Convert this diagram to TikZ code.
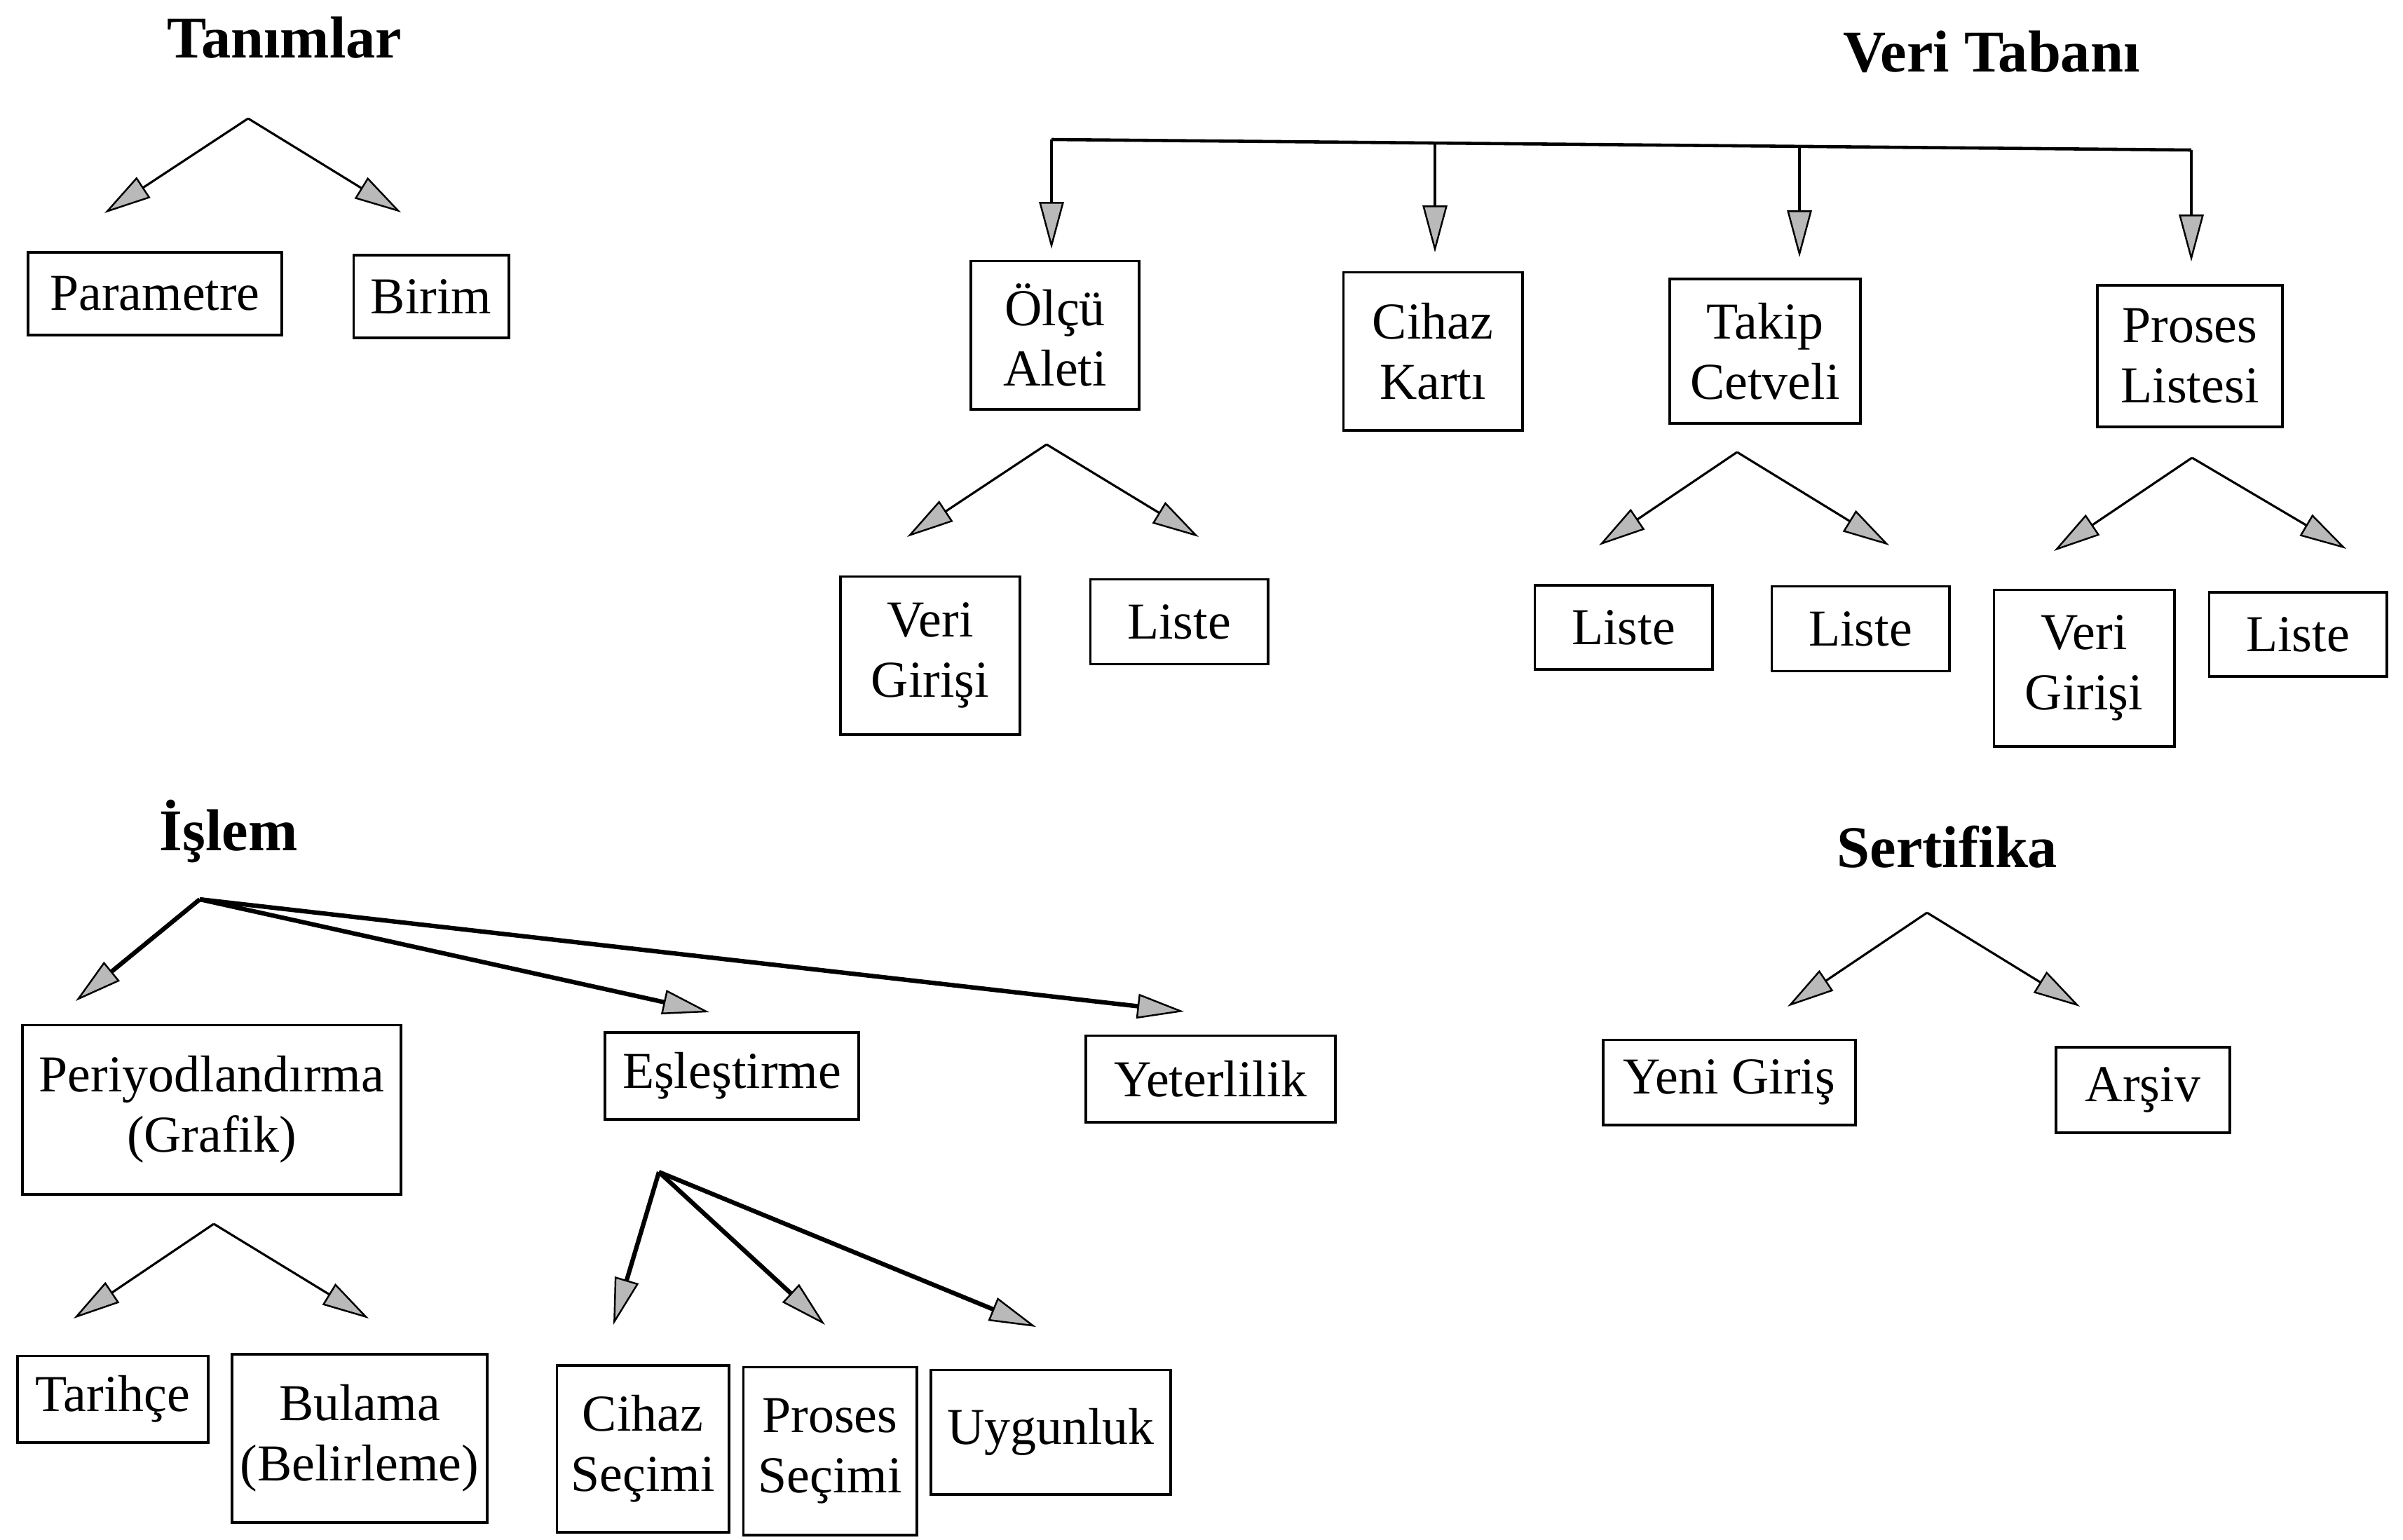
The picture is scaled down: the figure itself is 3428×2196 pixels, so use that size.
\documentclass[tikz,border=0pt]{standalone}
\usepackage{fontspec}
\setmainfont{Liberation Serif}
\usetikzlibrary{arrows.meta,positioning}

\begin{document}
\begin{tikzpicture}[x=0.01cm, y=-0.01cm,
      kutu/.style={draw, line width=1.1pt, align=center, inner sep=2pt, font={\fontsize{21}{24.5}\selectfont}},
      baslik/.style={anchor=base, font={\fontsize{24}{28}\selectfont\bfseries}},
      ok/.style={line width=0.9pt, -{Triangle[length=19pt, width=10pt, fill=gray!55, line width=0.7pt]}},
      kalinok/.style={ok, line width=1.8pt},
      hat/.style={line width=1.3pt}]

    \useasboundingbox (0,0) rectangle (3428,2196);

    %draw Tanimlar
    \node[baslik] (tanimlar) at (406,82) {Tanımlar};
    \node[kutu, minimum width=3.62cm, minimum height=1.18cm] (param) at (221,419) {Parametre};
    \node[kutu, minimum width=2.21cm, minimum height=1.18cm] (birim) at (615,423) {Birim};
    \coordinate (tanTepe) at (354,169);
    \coordinate (tanSol) at (149,304);
    \coordinate (tanSag) at (572,303);
    \draw[ok] (tanTepe) -- (tanSol);
    \draw[ok] (tanTepe) -- (tanSag);

    %draw Veri Tabani
    \node[baslik] (veritabani) at (2841,102) {Veri Tabanı};
    \node[kutu, minimum width=2.40cm, minimum height=2.11cm] (olcu) at (1505,478) {Ölçü\\Aleti};
    \node[kutu, minimum width=2.55cm, minimum height=2.25cm] (cihaz) at (2044,501) {Cihaz\\Kartı};
    \node[kutu, minimum width=2.72cm, minimum height=2.06cm] (takip) at (2518,501) {Takip\\Cetveli};
    \node[kutu, minimum width=2.64cm, minimum height=2.02cm] (proses) at (3124,508) {Proses\\Listesi};
    \coordinate (busSol) at (1500,199);
    \coordinate (busSag) at (3126,214);
    \coordinate (busCihaz) at (2047,204);
    \coordinate (busTakip) at (2567,209);
    \coordinate (olcuUc) at (1500,355);
    \coordinate (cihazUc) at (2047,360);
    \coordinate (takipUc) at (2567,367);
    \coordinate (prosesUc) at (3126,373);
    \draw[hat] (busSol) -- (busSag);
    \draw[ok] (busSol) -- (olcuUc);
    \draw[ok] (busCihaz) -- (cihazUc);
    \draw[ok] (busTakip) -- (takipUc);
    \draw[ok] (busSag) -- (prosesUc);

    %draw Olcu Aleti children
    \node[kutu, minimum width=2.56cm, minimum height=2.25cm] (olcuveri) at (1327,935) {Veri\\Girişi};
    \node[kutu, minimum width=2.53cm, minimum height=1.21cm] (olculiste) at (1682,887) {Liste};
    \coordinate (olcuTepe) at (1493,634);
    \coordinate (olcuSol) at (1294,766);
    \coordinate (olcuSag) at (1710,766);
    \draw[ok] (olcuTepe) -- (olcuSol);
    \draw[ok] (olcuTepe) -- (olcuSag);

    %draw Takip Cetveli children
    \node[kutu, minimum width=2.53cm, minimum height=1.20cm] (takipliste1) at (2316,895) {Liste};
    \node[kutu, minimum width=2.53cm, minimum height=1.21cm] (takipliste2) at (2654,897) {Liste};
    \coordinate (takipTepe) at (2478,645);
    \coordinate (takipSol) at (2281,778);
    \coordinate (takipSag) at (2695,778);
    \draw[ok] (takipTepe) -- (takipSol);
    \draw[ok] (takipTepe) -- (takipSag);

    %draw Proses Listesi children
    \node[kutu, minimum width=2.57cm, minimum height=2.23cm] (prosesveri) at (2973,953) {Veri\\Girişi};
    \node[kutu, minimum width=2.53cm, minimum height=1.20cm] (prosesliste) at (3278,905) {Liste};
    \coordinate (prosesTepe) at (3127,653);
    \coordinate (prosesSol) at (2930,786);
    \coordinate (prosesSag) at (3347,783);
    \draw[ok] (prosesTepe) -- (prosesSol);
    \draw[ok] (prosesTepe) -- (prosesSag);

    %draw Islem
    \node[baslik] (islem) at (326,1213) {İşlem};
    \node[kutu, minimum width=5.40cm, minimum height=2.41cm] (periyot) at (302,1583) {Periyodlandırma\\(Grafik)};
    \node[kutu, minimum width=3.61cm, minimum height=1.24cm] (esles) at (1044,1535) {Eşleştirme};
    \node[kutu, minimum width=3.55cm, minimum height=1.23cm] (yeter) at (1727,1539) {Yeterlilik};
    \coordinate (islemTepe) at (285,1283);
    \coordinate (islemSol) at (108,1428);
    \coordinate (islemOrta) at (1012,1444);
    \coordinate (islemSag) at (1689,1443);
    \draw[kalinok] (islemTepe) -- (islemSol);
    \draw[kalinok] (islemTepe) -- (islemOrta);
    \draw[kalinok] (islemTepe) -- (islemSag);

    %draw Periyodlandirma children
    \node[kutu, minimum width=2.72cm, minimum height=1.23cm] (tarihce) at (161,1996) {Tarihçe};
    \node[kutu, minimum width=3.63cm, minimum height=2.40cm] (bulama) at (513,2052) {Bulama\\(Belirleme)};
    \coordinate (periyotTepe) at (305,1746);
    \coordinate (periyotSol) at (105,1881);
    \coordinate (periyotSag) at (526,1881);
    \draw[ok] (periyotTepe) -- (periyotSol);
    \draw[ok] (periyotTepe) -- (periyotSag);

    %draw Eslestirme children
    \node[kutu, minimum width=2.45cm, minimum height=2.38cm] (cihazsec) at (917,2067) {Cihaz\\Seçimi};
    \node[kutu, minimum width=2.47cm, minimum height=2.39cm] (prosessec) at (1184,2070) {Proses\\Seçimi};
    \node[kutu, minimum width=3.41cm, minimum height=1.77cm] (uygun) at (1499,2043) {Uygunluk};
    \coordinate (eslesTepe) at (940,1672);
    \coordinate (eslesSol) at (875,1890);
    \coordinate (eslesOrta) at (1177,1890);
    \coordinate (eslesSag) at (1478,1893);
    \draw[kalinok] (eslesTepe) -- (eslesSol);
    \draw[kalinok] (eslesTepe) -- (eslesOrta);
    \draw[kalinok] (eslesTepe) -- (eslesSag);

    %draw Sertifika
    \node[baslik] (sertifika) at (2778,1237) {Sertifika};
    \node[kutu, minimum width=3.60cm, minimum height=1.21cm] (yeni) at (2467,1544) {Yeni Giriş};
    \node[kutu, minimum width=2.48cm, minimum height=1.22cm] (arsiv) at (3057,1555) {Arşiv};
    \coordinate (sertTepe) at (2749,1302);
    \coordinate (sertSol) at (2550,1436);
    \coordinate (sertSag) at (2967,1436);
    \draw[ok] (sertTepe) -- (sertSol);
    \draw[ok] (sertTepe) -- (sertSag);

  \end{tikzpicture}
\end{document}
